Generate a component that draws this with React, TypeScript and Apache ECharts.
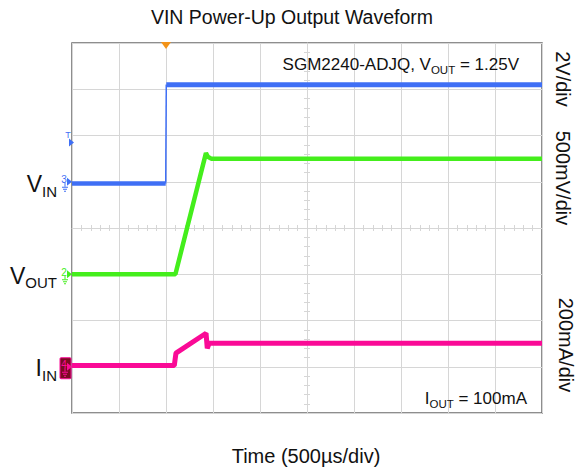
import React, { useEffect, useRef } from "react";
import * as echarts from "echarts";

// Time axis (µs): trigger at 0, 500 µs/div, 10 divisions
const timeMin = -1000;
const timeMax = 4000;
const timeDiv = 500;
// Vertical screen in divisions (8 divisions)
const divMin = -4;
const divMax = 4;

// CH3 VIN (V), 2 V/div, ground at +1 div
const vinTime = [-1000, -3, 3, 4000];
const vinVolt = [-0.08, -0.08, 4.2, 4.2];
// CH2 VOUT (V), 500 mV/div, ground at -1 div
const voutTime = [-1000, 100, 425, 445, 480, 4000];
const voutVolt = [0, 0, 1.31, 1.27, 1.25, 1.25];
// CH4 IIN (mA), 200 mA/div, ground at -3 div
const iinTime = [-1000, 88, 106, 426, 439, 460, 4000];
const iinCurrent = [5, 5, 59, 145, 80, 102, 102];

const vinScale = { offset: 1, perDiv: 2 };
const voutScale = { offset: -1, perDiv: 0.5 };
const iinScale = { offset: -3, perDiv: 200 };
const triggerLevel = 1.7; // V on VIN

const FONT = "Arial, 'Liberation Sans', Helvetica, sans-serif";
const BLUE = "#3f6ff5";
const GREEN = "#44ee1c";
const PINK = "#fa0a96";
const GRIDC = "#d6d6d6";

const toDiv = (v: number, s: { offset: number; perDiv: number }) => s.offset + v / s.perDiv;
const build = (t: number[], v: number[], s: { offset: number; perDiv: number }) =>
  t.map((x, i) => [x, toDiv(v[i], s)]);

export default function App() {
  const ref = useRef<HTMLDivElement>(null);
  useEffect(() => {
    const chart = echarts.init(ref.current!, undefined, { renderer: "svg" });
    const vinData = build(vinTime, vinVolt, vinScale);
    const gridL = 72, gridT = 43, gridW = 470, gridH = 370;
    const centerAxisCommon = {
      type: "value" as const,
      axisLabel: { show: false },
      splitLine: { show: false },
    };
    chart.setOption({
      animation: false,
      backgroundColor: "#ffffff",
      grid: { left: gridL, top: gridT, width: gridW, height: gridH, show: true, borderColor: "#6a6a6a", borderWidth: 1.5, backgroundColor: "transparent" },
      xAxis: [
        { type: "value", min: timeMin, max: timeMax, interval: timeDiv, axisLabel: { show: false }, axisTick: { show: false }, axisLine: { show: false },
          splitLine: { show: true, lineStyle: { color: GRIDC, width: 1 } } },
        { ...centerAxisCommon, min: timeMin, max: timeMax, interval: timeDiv, position: "bottom", offset: -gridH / 2,
          axisLine: { show: true, onZero: false, lineStyle: { color: GRIDC, width: 1 } },
          axisTick: { show: true, inside: true, length: 3, lineStyle: { color: GRIDC } },
          minorTick: { show: true, splitNumber: 5, length: 3, lineStyle: { color: GRIDC } } },
        { ...centerAxisCommon, min: timeMin, max: timeMax, interval: timeDiv, position: "bottom", offset: -gridH / 2,
          axisLine: { show: false, onZero: false },
          axisTick: { show: true, inside: false, length: 3, lineStyle: { color: GRIDC } },
          minorTick: { show: true, splitNumber: 5, length: 3, lineStyle: { color: GRIDC } } },
      ],
      yAxis: [
        { type: "value", min: divMin, max: divMax, interval: 1, axisLabel: { show: false }, axisTick: { show: false }, axisLine: { show: false },
          splitLine: { show: true, lineStyle: { color: GRIDC, width: 1 } } },
        { ...centerAxisCommon, min: divMin, max: divMax, interval: 1, position: "left", offset: -gridW / 2,
          axisLine: { show: true, onZero: false, lineStyle: { color: GRIDC, width: 1 } },
          axisTick: { show: true, inside: true, length: 3, lineStyle: { color: GRIDC } },
          minorTick: { show: true, splitNumber: 5, length: 3, lineStyle: { color: GRIDC } } },
        { ...centerAxisCommon, min: divMin, max: divMax, interval: 1, position: "left", offset: -gridW / 2,
          axisLine: { show: false, onZero: false },
          axisTick: { show: true, inside: false, length: 3, lineStyle: { color: GRIDC } },
          minorTick: { show: true, splitNumber: 5, length: 3, lineStyle: { color: GRIDC } } },
      ],
      series: [
        { type: "line", name: "IIN", data: build(iinTime, iinCurrent, iinScale), showSymbol: false, lineStyle: { color: PINK, width: 5 }, z: 3 },
        { type: "line", name: "VOUT", data: build(voutTime, voutVolt, voutScale), showSymbol: false, lineStyle: { color: GREEN, width: 4.5 }, z: 4 },
        { type: "line", name: "VIN edge", data: vinData.slice(1, 3), showSymbol: false, lineStyle: { color: BLUE, width: 1.5 }, z: 5 },
        { type: "line", name: "VIN low", data: vinData.slice(0, 2), showSymbol: false, lineStyle: { color: BLUE, width: 4.5 }, z: 5 },
        { type: "line", name: "VIN high", data: vinData.slice(2, 4), showSymbol: false, lineStyle: { color: BLUE, width: 5 }, z: 5 },
      ],
    });

    const px = (t: number, d: number) => chart.convertToPixel({ xAxisIndex: 0, yAxisIndex: 0 }, [t, d]) as number[];
    const left = gridL;
    const marker = (y: number, color: string, num: string, boxed: boolean) => {
      const els: any[] = [];
      if (boxed) {
        els.push({ type: "rect", shape: { x: left - 12, y: y - 9, width: 11, height: 21, r: 1 }, style: { fill: "#7a0b22", stroke: PINK, lineWidth: 1 }, z: 20 });
      }
      els.push({ type: "text", x: left - 8, y: y - 2, style: { text: num, fontSize: 10, fontFamily: FONT, fill: color, textAlign: "center", textVerticalAlign: "middle" }, z: 21 });
      els.push({ type: "polygon", shape: { points: [[left - 5, y - 4], [left, y], [left - 5, y + 4]] }, style: { fill: color }, z: 21 });
      els.push({ type: "line", shape: { x1: left - 7, y1: y + 1, x2: left - 7, y2: y + 5 }, style: { stroke: color, lineWidth: 1 }, z: 21 });
      els.push({ type: "line", shape: { x1: left - 10, y1: y + 5.5, x2: left - 4, y2: y + 5.5 }, style: { stroke: color, lineWidth: 1 }, z: 21 });
      els.push({ type: "line", shape: { x1: left - 9, y1: y + 7.5, x2: left - 5, y2: y + 7.5 }, style: { stroke: color, lineWidth: 1 }, z: 21 });
      els.push({ type: "line", shape: { x1: left - 8, y1: y + 9.5, x2: left - 6, y2: y + 9.5 }, style: { stroke: color, lineWidth: 1 }, z: 21 });
      return els;
    };
    const yVin = px(0, vinScale.offset)[1];
    const yVout = px(0, voutScale.offset)[1];
    const yIin = px(0, iinScale.offset)[1];
    const yTrig = px(0, toDiv(triggerLevel, vinScale))[1];
    const xTrig = px(0, 0)[0];

    const label = (main: string, sub: string, y: number) => ({
      type: "text", x: 57, y,
      style: {
        text: `{a|${main}}{b|${sub}}`, textAlign: "right", textVerticalAlign: "middle", fontFamily: FONT,
        rich: {
          a: { fontSize: 23, fontFamily: FONT, fill: "#111", lineHeight: 26, verticalAlign: "bottom" },
          b: { fontSize: 15, fontFamily: FONT, fill: "#111", lineHeight: 26, verticalAlign: "bottom", padding: [0, 0, -3, 0] },
        },
      },
      z: 22,
    });
    const rotText = (text: string, x: number, y: number) => ({
      type: "text", x, y, rotation: -Math.PI / 2,
      style: { text, fontSize: 20, fontFamily: FONT, fill: "#111", textAlign: "center", textVerticalAlign: "middle" },
      z: 22,
    });
    const noteRich = {
      a: { fontSize: 17, fontFamily: FONT, fill: "#111", lineHeight: 22, verticalAlign: "bottom" },
      b: { fontSize: 11.5, fontFamily: FONT, fill: "#111", lineHeight: 22, verticalAlign: "bottom", padding: [0, 0, -3, 0] },
    };

    chart.setOption({
      graphic: [
        { type: "text", x: 292, y: 17, style: { text: "VIN Power-Up Output Waveform", fontSize: 19.5, fontFamily: FONT, fill: "#111", textAlign: "center", textVerticalAlign: "middle" } },
        { type: "text", x: 306, y: 456, style: { text: "Time (500µs/div)", fontSize: 20, fontFamily: FONT, fill: "#111", textAlign: "center", textVerticalAlign: "middle" } },
        { type: "text", x: 519, y: 62, style: { text: "{a|SGM2240-ADJQ, V}{b|OUT}{a| = 1.25V}", textAlign: "right", textVerticalAlign: "middle", rich: noteRich }, z: 22 },
        { type: "text", x: 527, y: 396, style: { text: "{a|I}{b|OUT}{a| = 100mA}", textAlign: "right", textVerticalAlign: "middle", rich: noteRich }, z: 22 },
        rotText("2V/div", 563, 79),
        rotText("500mV/div", 563, 178),
        rotText("200mA/div", 566, 345),
        label("V", "IN", yVin + 1),
        label("V", "OUT", yVout),
        label("I", "IN", yIin),
        ...marker(yVin, BLUE, "3", false),
        ...marker(yVout, GREEN, "2", false),
        ...marker(yIin, PINK, "4", true),
        { type: "text", x: left - 4, y: yTrig - 7, style: { text: "T", fontSize: 9, fontFamily: FONT, fill: BLUE, textAlign: "center", textVerticalAlign: "middle" }, z: 21 },
        { type: "polygon", shape: { points: [[left - 3, yTrig - 4], [left + 2, yTrig], [left - 3, yTrig + 4]] }, style: { fill: BLUE }, z: 21 },
        { type: "polygon", shape: { points: [[xTrig - 5, gridT - 1], [xTrig + 5, gridT - 1], [xTrig, gridT + 6]] }, style: { fill: "#f39318" }, z: 21 },
      ],
    });
    return () => chart.dispose();
  }, []);
  return <div ref={ref} style={{ position: "fixed", left: 0, top: 0, width: 585, height: 474 }} />;
}
